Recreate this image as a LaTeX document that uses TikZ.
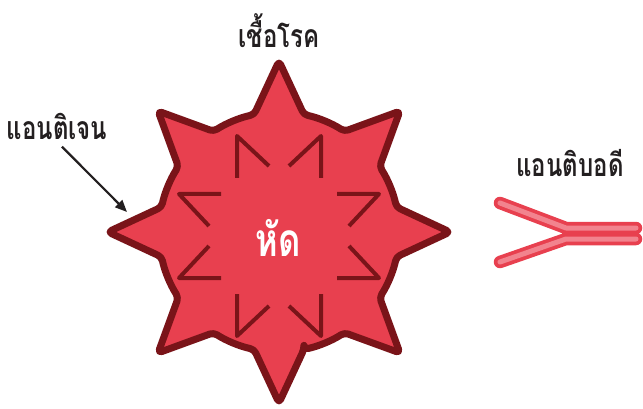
\documentclass[tikz,border=0pt]{standalone}
\usepackage{fontspec}
\newfontfamily\thaifont[Script=Thai, FakeStretch=0.75]{Loma}
\usetikzlibrary{arrows.meta}
\definecolor{virusred}{HTML}{E8404F}
\definecolor{virusdark}{HTML}{7A1419}
\definecolor{chainpink}{HTML}{F2838E}
\definecolor{inkblack}{HTML}{231F20}

\begin{document}
\begin{tikzpicture}[
    x=1pt, y=-1pt,
    shell/.style={draw=virusdark, fill=virusred, line width=7pt, line join=round, rounded corners=4pt},
    epitope/.style={virusdark, line width=4pt, line join=round},
    chain/.style={virusred, line width=12.5pt, line cap=round, line join=round},
    core/.style={chainpink, line width=5pt, line cap=round, line join=round},
    term/.style={font=\thaifont\bfseries\fontsize{32}{36}\selectfont, text=inkblack},
    pointer/.style={-{Triangle[length=12pt,width=10pt]}, line width=2.2pt, inkblack},
  ]
  \useasboundingbox (0,0) rectangle (643,409);

  \draw[shell, shift={(279,232)}] (78:120)
    \foreach \a in {90,135,...,405} {
      -- (\a:171) -- (\a+12:120) arc[start angle=\a+12, end angle=\a+33, radius=120]
    } -- cycle;

  \foreach \r in {0,90,180,270}
    \foreach \s in {1,-1}
      \draw[epitope, shift={(279,236)}, rotate=\r] (58,{\s*42}) -- (100,{\s*42}) -- (70,{\s*10});

  \node[font=\thaifont\bfseries\fontsize{46}{50}\selectfont, text=white] (measles) at (278,238) {หัด};

  \node[term] (germ) at (279,31) {เชื้อโรค};
  \node[term] (antigen) at (57,126) {แอนติเจน};
  \node[term] (antibody) at (570,163) {แอนติบอดี};

  \coordinate (spike) at (127,212);
  \draw[pointer] ([shift={(5,4)}]antigen.south) -- (spike);

  \foreach \p in {chain,core}
    \draw[\p] (500,203) -- (566,228) -- (636,228)
              (500,262) -- (566,239) -- (636,239);
\end{tikzpicture}
\end{document}
